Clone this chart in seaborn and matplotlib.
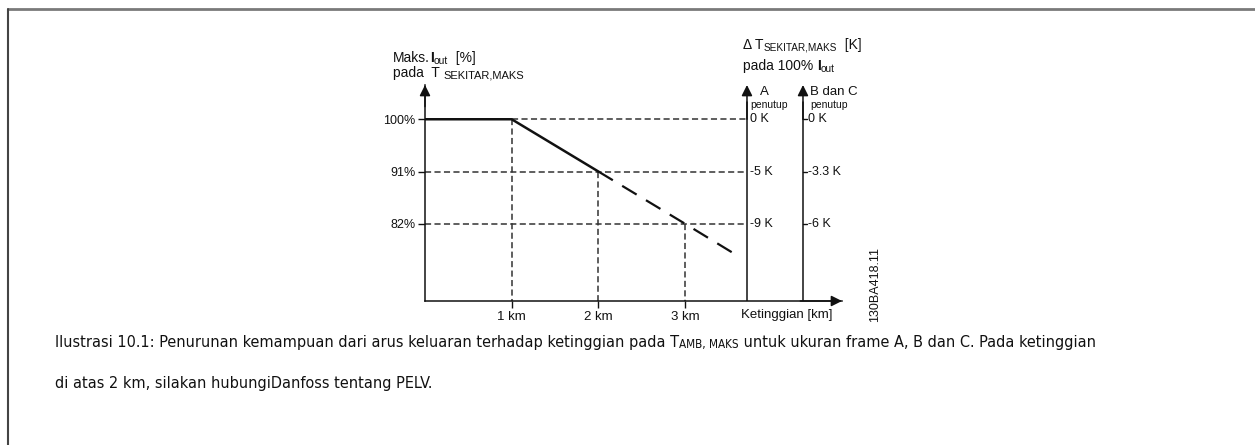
import matplotlib
matplotlib.use("Agg")
import matplotlib.pyplot as plt
from matplotlib import font_manager
from matplotlib.font_manager import FontProperties
from matplotlib.lines import Line2D
import seaborn as sns
import pandas as pd

# --- data -------------------------------------------------------------
altitude_solid = [0, 1, 2]          # km
current_solid = [100, 100, 91]      # max I_out [%]
altitude_dashed = [2, 3, 3.55]      # km
current_dashed = [91, 82, 77]       # max I_out [%]

level_pct = [100, 91, 82]
level_labels = ["100%", "91%", "82%"]
level_alt = [1, 2, 3]               # km where each level is reached
km_ticks = [1, 2, 3]
km_labels = ["1 km", "2 km", "3 km"]
delta_a = ["0 K", "-5 K", "-9 K"]
delta_bc = ["0 K", "-3.3 K", "-6 K"]

sns.set_theme(style="white")
plt.rcParams["font.family"] = ["Liberation Sans", "DejaVu Sans"]

W, H = 1255, 445
fig = plt.figure(figsize=(W / 100, H / 100), dpi=100)
renderer = fig.canvas.get_renderer()
ink = "#111111"
guide = "#333333"


def pick_caption_font():
    """Prefer a condensed / narrow sans face for the caption."""
    for f in font_manager.fontManager.ttflist:
        narrow = (f.stretch in ("condensed", "semi-condensed")
                  or "Condensed" in f.name or "Narrow" in f.name)
        if narrow and f.style == "normal" and f.weight in (400, "normal", "regular"):
            return dict(fname=f.fname)
    return dict(family="Open Sans")


def chain(host, x_px, y_px, pieces, fp_kw=None):
    """Write text pieces one after another on a shared baseline (pixel coords).

    Each piece is (text, size, baseline shift in px, weight)."""
    fp_kw = fp_kw or {}
    arts = []
    prev = None
    for text, size, dy, weight in pieces:
        fp = FontProperties(size=size, weight=weight, **fp_kw)
        yf = 1 - (y_px + dy) / H
        if prev is None:
            a = host.annotate(text, xy=(x_px / W, yf), xycoords="figure fraction",
                              ha="left", va="baseline", fontproperties=fp, color=ink,
                              annotation_clip=False)
        else:
            a = host.annotate(text, xy=(1, yf), xycoords=(prev, "figure fraction"),
                              ha="left", va="baseline", fontproperties=fp, color=ink,
                              annotation_clip=False)
        arts.append(a)
        prev = a
    return arts


# axes spanning from the origin to the arrow tips
left, right, top, bottom = 425, 842, 85, 301
ax = fig.add_axes([left / W, 1 - bottom / H, (right - left) / W, (bottom - top) / H])
ax.set_xlim(0, 4.81)
ax.set_ylim(68.7, 105.9)
ax.set_facecolor("none")

solid = pd.DataFrame({"alt": altitude_solid, "cur": current_solid})
dashed = pd.DataFrame({"alt": altitude_dashed, "cur": current_dashed})
sns.lineplot(data=solid, x="alt", y="cur", ax=ax, color=ink, lw=1.8, sort=False, zorder=4)
sns.lineplot(data=dashed, x="alt", y="cur", ax=ax, color=ink, lw=1.6, sort=False, zorder=4)
ax.lines[-1].set_dashes([7.6, 4.9])

# secondary scale axes (enclosure A, enclosure B and C)
x_a, x_bc = 3.714, 4.36

# guide lines
for pct, alt in zip(level_pct, level_alt):
    x0 = 1 if pct == 100 else 0
    ax.plot([x0, x_a], [pct, pct], color=guide, lw=1.1, ls=(0, (4, 2.2)), zorder=2)
    ax.plot([alt, alt], [pct, 68.7], color=guide, lw=1.1, ls=(0, (4, 2.2)), zorder=2,
            clip_on=False)

# axes, ticks and labels
for s in ["top", "right"]:
    ax.spines[s].set_visible(False)
for s in ["left", "bottom"]:
    ax.spines[s].set_color(ink)
    ax.spines[s].set_linewidth(1.1)
ax.set_yticks(level_pct)
ax.set_yticklabels(level_labels)
ax.set_xticks(km_ticks)
ax.set_xticklabels(km_labels)
ax.tick_params(axis="both", direction="out", length=5, width=1, color=ink,
               labelcolor=ink, pad=2, left=True, bottom=True)
ax.tick_params(axis="y", labelsize=9)
ax.tick_params(axis="x", labelsize=9.5, pad=2.5)
ax.set_xlabel("")
ax.set_ylabel("")
ax.grid(False)

arrow = dict(arrowstyle="-|>", color=ink, lw=1.1, mutation_scale=16, shrinkA=0, shrinkB=0)
ax.annotate("", xy=(0, 1), xytext=(0, 0.9), xycoords="axes fraction", arrowprops=arrow)
ax.annotate("", xy=(1, 0), xytext=(0.9, 0), xycoords="axes fraction", arrowprops=arrow)
for xv in (x_a, x_bc):
    ax.plot([xv, xv], [68.7, 103], color=ink, lw=1.1, zorder=3)
    ax.annotate("", xy=(xv, 105.9), xytext=(xv, 100), xycoords="data", arrowprops=arrow)

for pct, la, lb in zip(level_pct, delta_a, delta_bc):
    ax.text(x_a + 0.03, pct, la, fontsize=9, va="center", ha="left", color=ink)
    ax.plot([x_bc, x_bc + 0.05], [pct, pct], color=ink, lw=1)
    ax.text(x_bc + 0.06, pct, lb, fontsize=9, va="center", ha="left", color=ink)

ax.text(x_a + 0.2, 104.7, "A", fontsize=9.5, ha="center", va="center", color=ink)
ax.text(x_a + 0.04, 102.5, "penutup", fontsize=7.5, ha="left", va="center", color=ink)
ax.text(x_bc + 0.08, 104.7, "B dan C", fontsize=9.5, ha="left", va="center", color=ink)
ax.text(x_bc + 0.08, 102.5, "penutup", fontsize=7.5, ha="left", va="center", color=ink)

fig.text(787 / W, 1 - 315 / H, "Ketinggian [km]", fontsize=9.5, ha="center", va="center",
         color=ink)

# headers
chain(ax, 393, 62, [("Maks.", 10, 0, "normal"), ("I", 10, 0, "bold"),
                    ("out", 7.5, 2, "normal"), ("  [%]", 10, 0, "normal")])
chain(ax, 393, 77, [("pada  T ", 10, 0, "normal"), ("SEKITAR,MAKS", 8, 1, "normal")])
chain(ax, 743, 49, [("\u0394 T", 10, 0, "normal"), ("SEKITAR,MAKS", 7.2, 1, "normal"),
                    ("  [K]", 10, 0, "normal")])
chain(ax, 743, 70, [("pada 100% ", 10, 0, "normal"), ("I", 10, 0, "bold"),
                    ("out", 7.2, 2, "normal")])

fig.text(875 / W, 1 - 284 / H, "130BA418.11", fontsize=9, rotation=90, ha="center",
         va="center", color=ink)

# caption, sized so the first line runs across the page text width
cap_kw = pick_caption_font()


def caption(size):
    sub = size * 0.72
    l1 = chain(ax, 55, 347, [
        ("Ilustrasi 10.1: Penurunan kemampuan dari arus keluaran terhadap ketinggian pada T",
         size, 0, "normal"),
        ("AMB, MAKS", sub, 1, "normal"),
        (" untuk ukuran frame A, B dan C. Pada ketinggian", size, 0, "normal")], cap_kw)
    l2 = chain(ax, 55, 388, [("di atas 2 km, silakan hubungiDanfoss tentang PELV.",
                              size, 0, "normal")], cap_kw)
    return l1 + l2


trial = 12.0
arts = caption(trial)
width_px = arts[2].get_window_extent(renderer).x1 - arts[0].get_window_extent(renderer).x0
for a in arts:
    a.remove()
caption(trial * 1030 / width_px)

# page frame
fig.add_artist(Line2D([8 / W, 1], [1 - 9 / H, 1 - 9 / H], color="#7a7a7a", lw=2,
                      transform=fig.transFigure))
fig.add_artist(Line2D([8 / W, 8 / W], [0, 1 - 9 / H], color="#444444", lw=1.5,
                      transform=fig.transFigure))

fig.savefig("out.png", dpi=100, facecolor="white")
